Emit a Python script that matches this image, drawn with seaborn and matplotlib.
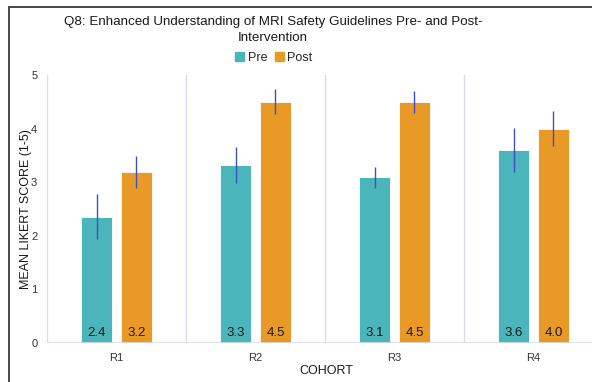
import numpy as np
import pandas as pd
import matplotlib
matplotlib.use("Agg")
import matplotlib.pyplot as plt
import seaborn as sns
from matplotlib.patches import Rectangle

sns.set_theme(style="white")
plt.rcParams['font.family'] = ['Liberation Sans', 'DejaVu Sans']

# data
cohorts = ['R1', 'R2', 'R3', 'R4']
pre_mean = [2.36, 3.32, 3.09, 3.60]
post_mean = [3.19, 4.50, 4.50, 4.00]
pre_err = [0.42, 0.34, 0.20, 0.41]
post_err = [0.29, 0.23, 0.20, 0.32]
pre_labels = ['2.4', '3.3', '3.1', '3.6']
post_labels = ['3.2', '4.5', '4.5', '4.0']

COLORS = {'Pre': '#4AB5BA', 'Post': '#E99A26'}
ERR_COLOR = '#3F4FC0'
GRID = '#D9DCF0'

df = pd.DataFrame({
    'Cohort': cohorts * 2,
    'Phase': ['Pre'] * 4 + ['Post'] * 4,
    'Score': pre_mean + post_mean,
})

fig = plt.figure(figsize=(5.92, 3.82), dpi=100)
ax = fig.add_axes([47 / 592, 39 / 382, 556 / 592, 268 / 382])

sns.barplot(data=df, x='Cohort', y='Score', hue='Phase', palette=COLORS,
            width=0.575, gap=0.22, ax=ax, legend=False, saturation=1,
            edgecolor='white', linewidth=0.6, errorbar=None)

# error bars + value labels at bar base
for cont, errs, labs in zip(ax.containers, [pre_err, post_err], [pre_labels, post_labels]):
    for bar, e, lab in zip(cont, errs, labs):
        xc = bar.get_x() + bar.get_width() / 2
        h = bar.get_height()
        ax.errorbar(xc, h, yerr=e, color=ERR_COLOR, lw=1.0, capsize=0, zorder=5)
        ax.text(xc, 0.07, lab, ha='center', va='bottom', fontsize=9.5, color='#1a1a1a')

ax.set_xlim(-0.5, 3.5)
ax.set_ylim(0, 5)
for xv in np.arange(-0.5, 4, 1):
    ax.axvline(xv, color=GRID, lw=1.0, zorder=0)
for s in ax.spines.values():
    s.set_visible(False)
ax.axhline(0, color=GRID, lw=1.2, zorder=1)

ax.set_yticks(range(6))
ax.tick_params(axis='both', length=0, labelsize=8, colors='#333333')
ax.tick_params(axis='x', pad=7)
ax.tick_params(axis='y', pad=7)
ax.set_xlabel('')
ax.set_ylabel('')

fig.text(26 / 592, 1 - 209 / 382, 'MEAN LIKERT SCORE (1-5)', rotation=90, ha='center', va='center',
         fontsize=9, color='#1a1a1a')
fig.text(326 / 592, 1 - 371 / 382, 'COHORT', ha='center', va='center', fontsize=9, color='#1a1a1a')
fig.text(273 / 592, 1 - 22 / 382, 'Q8: Enhanced Understanding of MRI Safety Guidelines Pre- and Post-',
         ha='center', va='center', fontsize=9.6, color='#1a1a1a')
fig.text(273 / 592, 1 - 38 / 382, 'Intervention', ha='center', va='center', fontsize=9.6, color='#1a1a1a')

handles = [Rectangle((0, 0), 1, 1, color=COLORS['Pre']), Rectangle((0, 0), 1, 1, color=COLORS['Post'])]
fig.legend(handles, ['Pre', 'Post'], loc='center', bbox_to_anchor=(274 / 592, 1 - 58 / 382),
           ncol=2, frameon=False, fontsize=9, handlelength=0.7, handleheight=0.7,
           handletextpad=0.3, columnspacing=0.6)

# outer chart frame (cropped on right and bottom)
fig.patches.append(Rectangle((9 / 592, -0.2), 1.2, 1 - 7 / 382 + 0.2, transform=fig.transFigure,
                             fill=False, edgecolor='#3a3a3a', lw=1.3))

fig.savefig('out.png', dpi=100, facecolor='white')
